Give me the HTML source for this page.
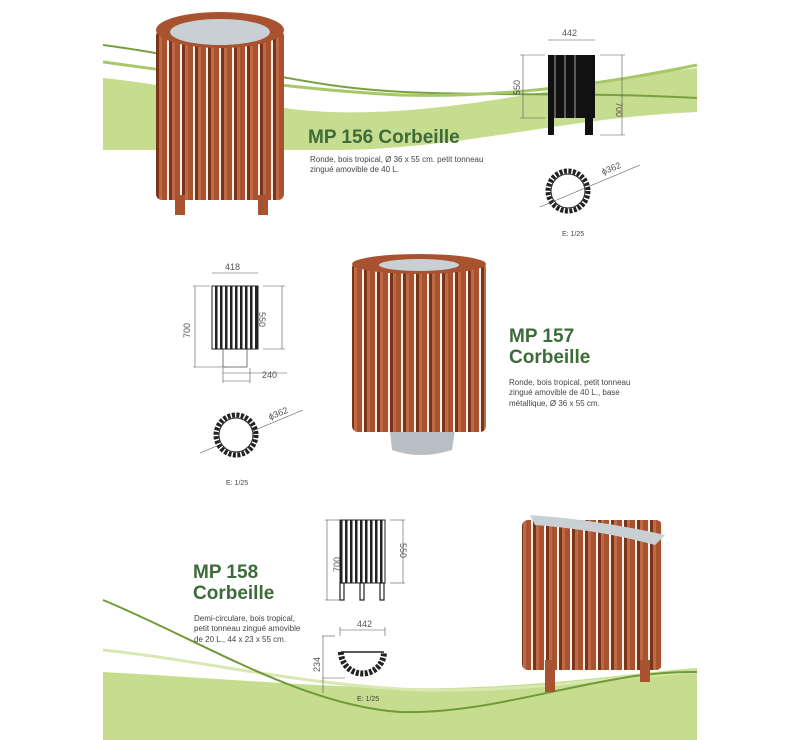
<!DOCTYPE html>
<html><head><meta charset="utf-8"><style>
body{margin:0;width:800px;height:740px;background:#fff;overflow:hidden;position:relative;font-family:"Liberation Sans",sans-serif}
svg{position:absolute;left:0;top:0}
.t{position:absolute;color:#3d6b3a;font-weight:bold;font-family:"Liberation Sans",sans-serif;line-height:1.1}
.d{position:absolute;font-size:8px;color:#444;line-height:1.3}
</style></head><body>
<svg width="800" height="740" viewBox="0 0 800 740">
<defs>
<pattern id="slat" width="13" height="10" patternUnits="userSpaceOnUse">
<rect width="13" height="10" fill="#a9522f"/><rect x="0" width="3" height="10" fill="#7a3518"/><rect x="3" width="3" height="10" fill="#bf6a45"/><rect x="11" width="2" height="10" fill="#f3f0ee"/>
</pattern>
<pattern id="draw" width="5" height="10" patternUnits="userSpaceOnUse"><rect width="5" height="10" fill="#fff"/><rect width="2.5" height="10" fill="#222"/></pattern>
</defs>
<path d="M103 78 C200 88 260 110 330 112 C450 116 560 85 697 68 L697 112 C560 118 460 150 330 150 L103 150 Z" fill="#c6dc8e"/>
<path d="M103 45 C180 55 260 75 330 85 C430 100 560 90 697 98" stroke="#78a040" stroke-width="2" fill="none"/>
<path d="M103 62 C200 75 300 90 400 95 C500 98 600 85 697 65" stroke="#a6c868" stroke-width="3" fill="none"/>
<path d="M103 672 C250 680 350 690 450 688 C560 685 640 672 697 668 L697 740 L103 740 Z" fill="#c6dc8e"/>
<path d="M103 650 C200 660 300 685 420 690 C540 692 620 675 697 672" stroke="#d9e8b2" stroke-width="3" fill="none"/>
<path d="M103 600 C200 640 300 705 400 712 C500 715 600 670 697 672" stroke="#6f9a3a" stroke-width="2" fill="none"/>
<rect x="156" y="30" width="128" height="170" rx="6" fill="url(#slat)"/>
<rect x="175" y="195" width="10" height="20" fill="#a9522f"/><rect x="258" y="195" width="10" height="20" fill="#a9522f"/>
<ellipse cx="220" cy="30" rx="64" ry="18" fill="#a9522f"/><ellipse cx="220" cy="32" rx="50" ry="13" fill="#c8d0d4"/>
<path d="M390 430 L455 430 L452 450 Q420 460 392 450 Z" fill="#b9bec2"/>
<rect x="352" y="262" width="134" height="170" rx="6" fill="url(#slat)"/>
<ellipse cx="419" cy="264" rx="67" ry="10" fill="#a9522f"/><ellipse cx="419" cy="265" rx="40" ry="6" fill="#c8d0d4"/>
<rect x="522" y="520" width="140" height="150" rx="6" fill="url(#slat)"/>
<rect x="545" y="660" width="10" height="32" fill="#a9522f"/><rect x="640" y="660" width="10" height="22" fill="#a9522f"/>
<path d="M530 515 Q600 520 665 535 L655 545 Q600 530 535 525 Z" fill="#c8d0d4"/>
<g stroke="#555" stroke-width="0.6" fill="none">
<line x1="548" y1="40" x2="595" y2="40"/><line x1="520" y1="55" x2="545" y2="55"/><line x1="520" y1="118" x2="545" y2="118"/><line x1="523" y1="55" x2="523" y2="118"/>
<line x1="600" y1="55" x2="625" y2="55"/><line x1="600" y1="135" x2="625" y2="135"/><line x1="622" y1="55" x2="622" y2="135"/>
</g>
<rect x="548" y="55" width="47" height="63" fill="#111"/>
<rect x="548" y="118" width="6" height="17" fill="#111"/><rect x="585" y="118" width="8" height="17" fill="#111"/>
<g stroke="#ccc" stroke-width="0.8"><line x1="555" y1="55" x2="555" y2="118"/><line x1="565" y1="55" x2="565" y2="118"/><line x1="575" y1="55" x2="575" y2="118"/></g>
<circle cx="568" cy="191" r="20" fill="none" stroke="#222" stroke-width="5" stroke-dasharray="3 1.5"/>
<circle cx="568" cy="191" r="17" fill="#fff" stroke="#222" stroke-width="1"/>
<line x1="540" y1="207" x2="640" y2="165" stroke="#555" stroke-width="0.6"/>
<g stroke="#555" stroke-width="0.6" fill="none">
<line x1="212" y1="273" x2="258" y2="273"/><line x1="193" y1="286" x2="210" y2="286"/><line x1="193" y1="367" x2="225" y2="367"/><line x1="195" y1="286" x2="195" y2="367"/>
<line x1="263" y1="286" x2="285" y2="286"/><line x1="263" y1="349" x2="285" y2="349"/><line x1="282" y1="286" x2="282" y2="349"/>
<line x1="223" y1="373" x2="287" y2="373"/><line x1="223" y1="368" x2="223" y2="383"/><line x1="250" y1="368" x2="250" y2="383"/><line x1="223" y1="381" x2="250" y2="381"/>
<rect x="223" y="349" width="24" height="18" stroke="#222"/>
<line x1="200" y1="453" x2="303" y2="410"/>
</g>
<rect x="212" y="286" width="46" height="63" fill="url(#draw)" stroke="#222"/>
<circle cx="236" cy="435" r="20" fill="none" stroke="#222" stroke-width="5" stroke-dasharray="3 1.5"/>
<circle cx="236" cy="435" r="17" fill="#fff" stroke="#222" stroke-width="1"/>
<g stroke="#555" stroke-width="0.6" fill="none">
<line x1="325" y1="520" x2="340" y2="520"/><line x1="325" y1="600" x2="340" y2="600"/><line x1="327" y1="520" x2="327" y2="600"/>
<line x1="390" y1="520" x2="405" y2="520"/><line x1="390" y1="583" x2="405" y2="583"/><line x1="403" y1="520" x2="403" y2="583"/>
<line x1="340" y1="630" x2="385" y2="630"/><line x1="340" y1="627" x2="340" y2="636"/><line x1="385" y1="627" x2="385" y2="636"/>
<line x1="322" y1="636" x2="335" y2="636"/><line x1="322" y1="678" x2="345" y2="678"/><line x1="323" y1="636" x2="323" y2="693"/>
</g>
<rect x="340" y="520" width="45" height="63" fill="url(#draw)" stroke="#222"/>
<g fill="none" stroke="#222" stroke-width="1.2"><rect x="340" y="583" width="4" height="17"/><rect x="360" y="583" width="4" height="17"/><rect x="380" y="583" width="4" height="17"/></g>
<path d="M341 652 A21 21 0 0 0 384 652" fill="none" stroke="#222" stroke-width="6" stroke-dasharray="3 1.5"/>
<line x1="341" y1="652" x2="384" y2="652" stroke="#222" stroke-width="1.5"/>
<g font-family="Liberation Sans,sans-serif" font-size="9" fill="#555">
<text x="562" y="36">442</text><text x="520" y="95" transform="rotate(-90 520 95)">550</text><text x="616" y="102" transform="rotate(90 616 102)">700</text>
<text x="603" y="175" transform="rotate(-22 603 175)">ϕ362</text>
<text x="225" y="270">418</text><text x="190" y="338" transform="rotate(-90 190 338)">700</text><text x="269" y="322" transform="rotate(90 269 312)">550</text><text x="262" y="378">240</text>
<text x="270" y="420" transform="rotate(-22 270 420)">ϕ362</text>
<text x="357" y="627">442</text><text x="340" y="572" transform="rotate(-90 340 572)">700</text><text x="400" y="543" transform="rotate(90 400 543)">550</text><text x="320" y="672" transform="rotate(-90 320 672)">234</text>
</g>
<g font-family="Liberation Sans,sans-serif" font-size="7" fill="#444"><text x="562" y="236">E: 1/25</text><text x="226" y="485">E: 1/25</text><text x="357" y="701">E: 1/25</text></g>
</svg>
<div class="t" style="left:308px;top:128px;font-size:19px">MP 156 Corbeille</div>
<div class="d" style="left:310px;top:155px">Ronde, bois tropical, Ø 36 x 55 cm. petit tonneau<br>zingué amovible de 40 L.</div>
<div class="t" style="left:509px;top:327px;font-size:19px">MP 157<br>Corbeille</div>
<div class="d" style="left:509px;top:378px">Ronde, bois tropical, petit tonneau<br>zingué amovible de 40 L., base<br>métallique, Ø 36 x 55 cm.</div>
<div class="t" style="left:193px;top:563px;font-size:19px">MP 158<br>Corbeille</div>
<div class="d" style="left:194px;top:614px">Demi-circulare, bois tropical,<br>petit tonneau zingué amovible<br>de 20 L., 44 x 23 x 55 cm.</div>
</body></html>
